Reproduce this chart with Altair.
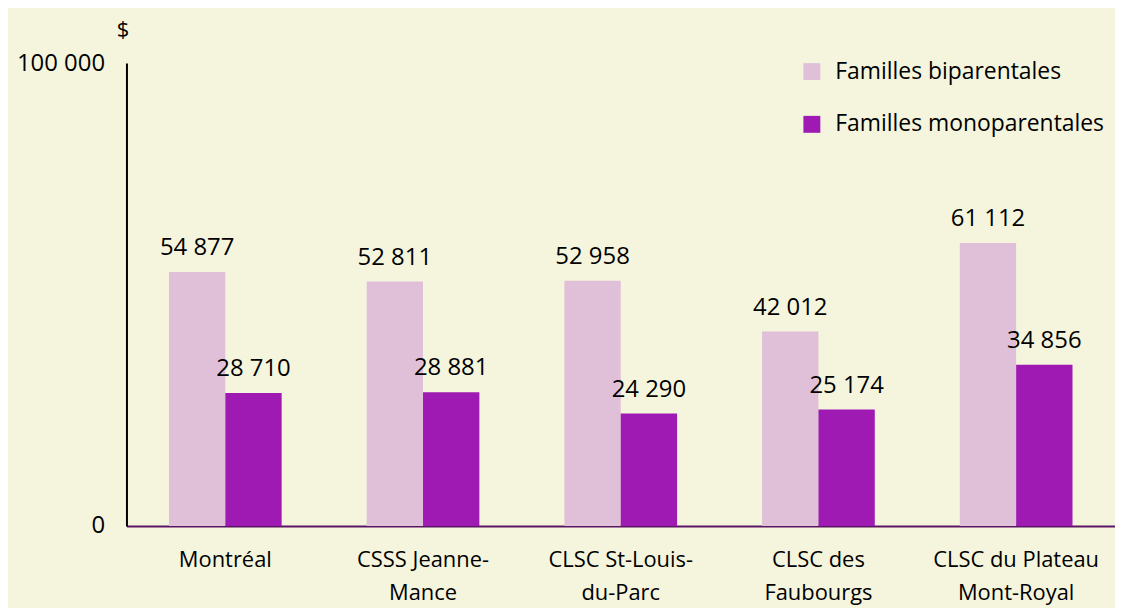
import altair as alt
import pandas as pd

regions = ["Montréal", "CSSS Jeanne-|Mance", "CLSC St-Louis-|du-Parc", "CLSC des|Faubourgs", "CLSC du Plateau|Mont-Royal"]
series = ["Familles biparentales", "Familles monoparentales"]
biparentales = [54877, 52811, 52958, 42012, 61112]
monoparentales = [28710, 28881, 24290, 25174, 34856]
colors = ["#E0C0D8", "#9E1AB2"]

rows = []
for r, b, m in zip(regions, biparentales, monoparentales):
    rows.append({"region": r, "type": series[0], "value": b})
    rows.append({"region": r, "type": series[1], "value": m})
df = pd.DataFrame(rows)

FONT = "Open Sans"
FS = 24

base = alt.Chart(df).encode(
    x=alt.X("region:N", sort=regions,
            scale=alt.Scale(paddingInner=0.43, paddingOuter=0.215),
            axis=alt.Axis(title=None, labelAngle=0, ticks=False,
                          labelExpr="split(datum.label, '|')",
                          labelFont=FONT, labelFontSize=22, labelColor="#000000",
                          labelPadding=24, labelLineHeight=33,
                          domainColor="#5A1565", domainWidth=2)),
    xOffset=alt.XOffset("type:N", sort=series),
    y=alt.Y("value:Q", scale=alt.Scale(domain=[0, 100000], nice=False),
            axis=alt.Axis(values=[0, 100000], grid=False, ticks=False,
                          labelExpr="replace(format(datum.value, ','), ',', ' ')",
                          labelFont=FONT, labelFontSize=FS, labelColor="#000000",
                          labelPadding=22,
                          domainColor="#000000", domainWidth=2,
                          title="$", titleAngle=0, titleFont=FONT, titleFontSize=FS - 2,
                          titleFontWeight="normal", titleColor="#000000",
                          titleAlign="center", titleBaseline="middle",
                          titleX=-4, titleY=-34)),
)

bars = base.mark_bar().encode(
    color=alt.Color("type:N", sort=series,
                    scale=alt.Scale(domain=series, range=colors),
                    legend=alt.Legend(title=None, orient="none", legendX=677, legendY=-3,
                                      symbolType="square", symbolSize=289,
                                      symbolStrokeWidth=0, symbolOpacity=1,
                                      labelFont=FONT, labelFontSize=23,
                                      labelColor="#000000", labelOffset=12,
                                      rowPadding=29, labelLimit=400))
)

labels = base.mark_text(font=FONT, fontSize=FS, color="#000000",
                        baseline="alphabetic", dy=-17).transform_calculate(
    lbl="replace(format(datum.value, ','), ',', ' ')"
).encode(text="lbl:N")

chart = alt.layer(bars, labels).properties(
    width=993, height=465,
    autosize=alt.AutoSizeParams(type="none"),
    padding={"left": 119, "top": 54, "right": 0, "bottom": 81},
    background="#F5F5DE",
).configure_view(stroke=None)

chart.save("out.html", embed_options={"renderer": "svg", "actions": False})
